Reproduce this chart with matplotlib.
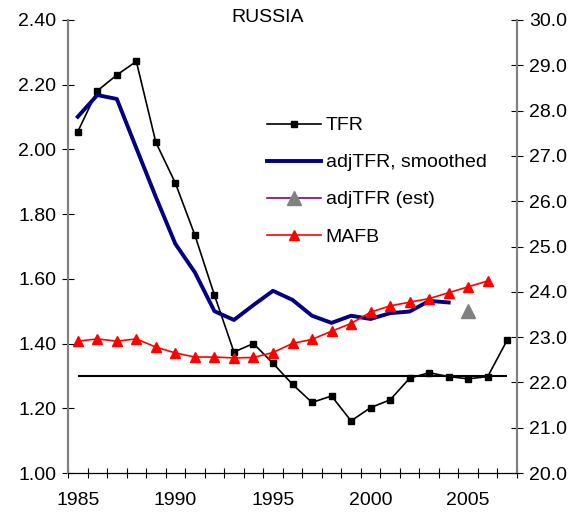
import matplotlib.pyplot as plt
from matplotlib.ticker import FixedLocator, FormatStrFormatter

plt.rcParams['font.family'] = ['Liberation Sans', 'DejaVu Sans']
plt.rcParams['font.size'] = 14

years = list(range(1985, 2008))
tfr = [2.055, 2.181, 2.230, 2.272, 2.022, 1.896, 1.735, 1.550, 1.374, 1.400,
       1.339, 1.274, 1.218, 1.238, 1.161, 1.202, 1.226, 1.293, 1.310, 1.298,
       1.291, 1.298, 1.411]
adj_years = list(range(1985, 2005))
adj_tfr = [2.101, 2.168, 2.156, 2.004, 1.853, 1.708, 1.620, 1.500, 1.473, 1.519,
           1.563, 1.535, 1.486, 1.464, 1.486, 1.476, 1.494, 1.499, 1.532, 1.527]
est_years = [2005]
est_tfr = [1.50]
mafb_years = list(range(1985, 2007))
mafb = [22.91, 22.96, 22.91, 22.96, 22.78, 22.65, 22.56, 22.56, 22.54, 22.55,
        22.66, 22.86, 22.95, 23.13, 23.30, 23.55, 23.69, 23.77, 23.85, 23.98,
        24.11, 24.24]
replacement = 1.30

fig = plt.figure(figsize=(5.77, 5.18), dpi=100)
ax = fig.add_axes([68/577, 45/518, 449/577, 453/518])
ax2 = ax.twinx()

ax.hlines(replacement, years[0], years[-1], color='black', lw=1.5)
l1, = ax.plot(years, tfr, color='black', lw=1.2, marker='s', ms=5, label='TFR')
l2, = ax.plot(adj_years, adj_tfr, color='#000080', lw=2.8, label='adjTFR, smoothed')
l3, = ax.plot(est_years, est_tfr, color='#800080', lw=1.2, marker='^', ms=10,
              mfc='gray', mec='gray', label='adjTFR (est)')
l4, = ax2.plot(mafb_years, mafb, color='red', lw=1.2, marker='^', ms=7, label='MAFB')

ax.set_xlim(1984.5, 2007.5)
ax.set_ylim(1.0, 2.4)
ax2.set_ylim(20.0, 30.0)

ax.set_xticks([1985, 1990, 1995, 2000, 2005])
ax.xaxis.set_minor_locator(FixedLocator([y - 0.5 for y in years] + [2007.5]))
ax.tick_params(axis='x', which='major', length=0, pad=14)
ax.tick_params(axis='x', which='minor', direction='inout', length=7, width=0.8)
ax.set_yticks([1.0 + 0.2 * i for i in range(8)])
ax.yaxis.set_major_formatter(FormatStrFormatter('%.2f'))
ax.tick_params(axis='y', direction='inout', length=9, width=0.8, pad=4)
ax2.set_yticks(range(20, 31))
ax2.yaxis.set_major_formatter(FormatStrFormatter('%.1f'))
ax2.tick_params(axis='y', direction='inout', length=9, width=0.8, pad=4)

for a in (ax, ax2):
    a.spines['top'].set_visible(False)
    a.spines['left'].set_color('gray')
    a.spines['right'].set_color('gray')
    a.spines['left'].set_linewidth(1.5)
    a.spines['right'].set_linewidth(1.5)
    a.spines['bottom'].set_color('black')

fig.text(268/577, 1 - 18/518, 'RUSSIA', ha='center', va='center', fontsize=14)

ax.legend(handles=[l1, l2, l3, l4], loc='upper left', bbox_to_anchor=(0.405, 0.825),
          frameon=False, handlelength=2.75, labelspacing=1.0, handletextpad=0.25)

fig.savefig('out.png', dpi=100)
